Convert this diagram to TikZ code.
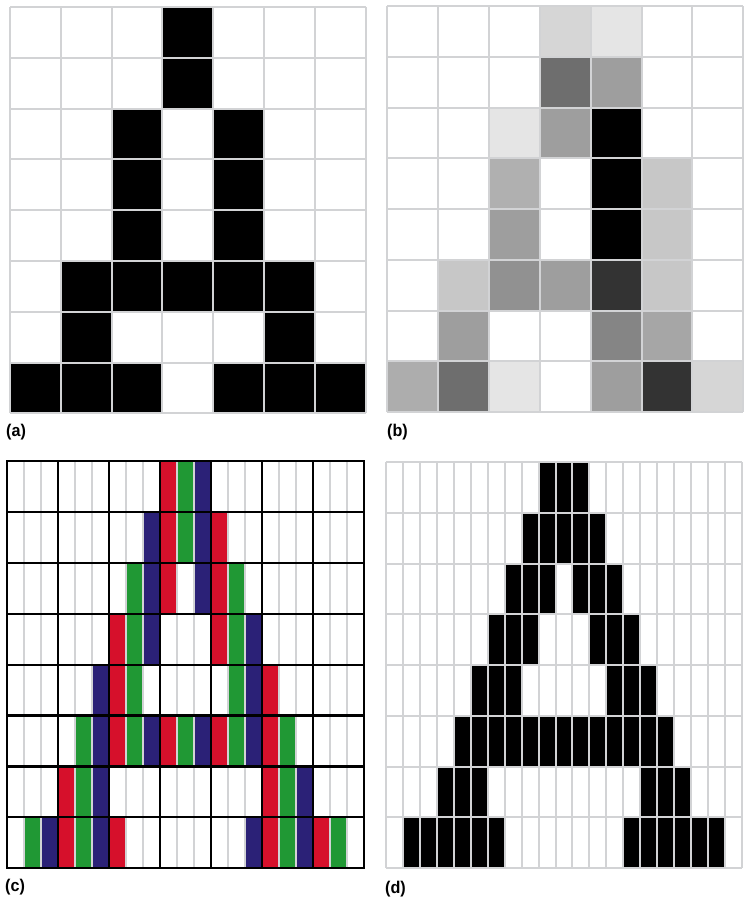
\documentclass[tikz,border=0pt]{standalone}
\usepackage{fontspec}
\setmainfont{Liberation Sans}
\definecolor{gridgray}{RGB}{210,211,213}
\definecolor{sub0}{RGB}{214,16,43}
\definecolor{sub1}{RGB}{32,152,52}
\definecolor{sub2}{RGB}{43,33,119}
\begin{document}
\begin{tikzpicture}[
  x=1pt, y=-1pt,
  gridline/.style={draw=gridgray, line width=2pt},
  cellline/.style={draw=black, line width=2.2pt, line cap=rect},
  panellabel/.style={anchor=west, inner sep=0pt, xscale=0.95, font=\bfseries\fontsize{17}{19}\selectfont}]
  \useasboundingbox (0,0) rectangle (747,902);

  % (a) plain pixels
  \begin{scope}[shift={(10,7)}, x=50.8pt, y=-50.8pt]
    \foreach \r/\cols in {0/{3}, 1/{3}, 2/{2,4}, 3/{2,4}, 4/{2,4},
                          5/{1,...,5}, 6/{1,5}, 7/{0,1,2,4,5,6}}
      \foreach \c in \cols
        \fill[black] (\c,\r) rectangle ++(1,1);
    \foreach \i in {0,...,7} \draw[gridline] (\i,0) -- (\i,8);
    \foreach \j in {0,...,8} \draw[gridline] (0,\j) -- (7,\j);
  \end{scope}
  \node[panellabel] (la) at (6,432) {(a)};

  % (b) grey levels
  \begin{scope}[shift={(387,6)}, x=50.9pt, y=-50.75pt]
    \foreach \r/\c/\k in {0/3/16, 0/4/10, 1/3/57, 1/4/38,
                          2/2/10, 2/3/38, 2/4/100,
                          3/2/31, 3/4/100, 3/5/22,
                          4/2/38, 4/4/100, 4/5/22,
                          5/1/22, 5/2/43, 5/3/38, 5/4/80, 5/5/22,
                          6/1/38, 6/4/48, 6/5/35,
                          7/0/32, 7/1/57, 7/2/10, 7/4/38, 7/5/80, 7/6/16}
      \fill[black!\k] (\c,\r) rectangle ++(1,1);
    \foreach \i in {0,...,7} \draw[gridline] (\i,0) -- (\i,8);
    \foreach \j in {0,...,8} \draw[gridline] (0,\j) -- (7,\j);
  \end{scope}
  \node[panellabel] (lb) at (387,432) {(b)};

  % (c) colour subpixels
  \begin{scope}[shift={(7,461)}, x=17pt, y=-50.9pt]
    \foreach \r/\cols in {0/{9,10,11}, 1/{8,...,12}, 2/{7,8,9,11,12,13},
                          3/{6,7,8,12,13,14}, 4/{5,6,7,13,14,15},
                          5/{4,...,16}, 6/{3,4,5,15,16,17},
                          7/{1,...,6,14,15,16,17,18,19}}
      \foreach \c in \cols {
        \pgfmathtruncatemacro\m{mod(\c,3)}
        \fill[sub\m] (\c,\r) rectangle ++(1,1);
      }
    \foreach \i in {1,...,20} \draw[gridline] (\i,0) -- (\i,8);
    \foreach \i in {0,3,...,21} \draw[cellline] (\i,0) -- (\i,8);
    \foreach \j in {0,...,8} \draw[cellline] (0,\j) -- (21,\j);
  \end{scope}
  \node[panellabel] (lc) at (5,887) {(c)};

  % (d) black subpixels
  \begin{scope}[shift={(386,462)}, x=16.95pt, y=-50.75pt]
    \foreach \r/\cols in {0/{9,10,11}, 1/{8,...,12}, 2/{7,8,9,11,12,13},
                          3/{6,7,8,12,13,14}, 4/{5,6,7,13,14,15},
                          5/{4,...,16}, 6/{3,4,5,15,16,17},
                          7/{1,...,6,14,15,16,17,18,19}}
      \foreach \c in \cols
        \fill[black] (\c,\r) rectangle ++(1,1);
    \foreach \i in {0,...,21} \draw[gridline] (\i,0) -- (\i,8);
    \foreach \j in {0,...,8} \draw[gridline] (0,\j) -- (21,\j);
  \end{scope}
  \node[panellabel] (ld) at (385,889) {(d)};
\end{tikzpicture}
\end{document}
